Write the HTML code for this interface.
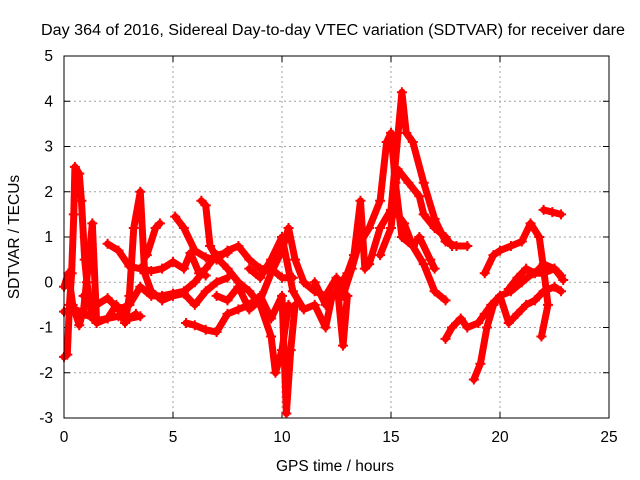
<!DOCTYPE html>
<html><head><meta charset="utf-8"><style>
body{margin:0;background:#fff}
svg{display:block;font-family:"Liberation Sans",sans-serif}
</style></head><body>
<svg id="chart" width="640" height="480">
<rect width="640" height="480" fill="#fff"/>
<text x="41" y="35" font-size="15.5" textLength="584" lengthAdjust="spacingAndGlyphs">Day 364 of 2016, Sidereal Day-to-day VTEC variation (SDTVAR) for receiver dare</text>
<text x="335" y="471" font-size="15.5" text-anchor="middle">GPS time / hours</text>
<text transform="translate(19,237) rotate(-90)" font-size="15.5" text-anchor="middle">SDTVAR / TECUs</text>
<g id="grid"></g><g id="ticks"></g><g id="marks"></g>
<rect x="64" y="56" width="545" height="362" fill="none" stroke="#000" stroke-width="1"/>
</svg>
<script>
const xTicks=[0,5,10,15,20,25];
const yTicks=[-3,-2,-1,0,1,2,3,4,5];
const tracks=[
[[0,-0.65],[0.5,-0.6],[1,-0.7],[1.5,-0.85],[2,-0.8],[2.5,-0.75],[3,-0.8],[3.5,-0.75]],
[[0,-1.65],[0.15,-1.6],[0.25,-0.5],[0.35,0.2],[0.45,1.5],[0.5,2.55],[0.7,2.4],[0.8,1.8],[0.95,0.5],[1.05,0],[1.3,-0.8]],
[[0,-0.1],[0.2,0.2],[0.4,-0.5],[0.7,-0.95],[0.9,-0.6],[1.1,0.3],[1.3,1.3],[1.5,-0.9],[2,-0.8],[2.4,-0.5],[2.8,-0.85],[3.3,-0.7]],
[[0.9,-0.3],[1.5,-0.5],[2,-0.35],[2.5,-0.6],[3,-0.5],[3.5,-0.1],[4,-0.3],[4.5,-0.3],[5,-0.25],[5.5,-0.2],[6,0],[6.5,0.3],[7,0.6],[7.5,0.65]],
[[2,0.85],[2.5,0.7],[3,0.35],[3.5,0.3],[4,0.25],[4.5,0.3],[5,0.45],[5.5,0.3],[5.8,0.65],[6.2,0.2],[6.5,0.15]],
[[2.8,-0.9],[3.0,-0.3],[3.2,1.2],[3.5,2.0],[3.7,0.2],[4,-0.2],[4.5,-0.4],[5,-0.3],[5.5,-0.25],[6,-0.5],[6.5,-0.2],[7,0],[7.5,0.1]],
[[3.8,0.6],[4.2,1.2],[4.4,1.3]],
[[5.1,1.45],[5.5,1.2],[6,0.7],[6.5,0.55],[7,0.5],[7.5,0.7],[8,0.8],[8.5,0.5],[9,0.3],[9.5,0.3],[10,0.1],[10.5,0.1]],
[[6.3,1.8],[6.5,1.7],[6.7,0.8],[7,0.55],[7.5,0.3],[8,0],[8.5,-0.2],[9,-0.5],[9.5,-1.2],[9.7,-2.0],[10,-1.5],[10.3,-0.5]],
[[5.6,-0.9],[6,-0.95],[6.5,-1.05],[7,-1.1],[7.5,-0.7],[8,-0.6],[8.5,-0.5],[9,-0.3],[9.5,-0.8],[10,-0.3],[10.2,-2.9],[10.4,-1.5],[10.6,-0.5]],
[[7,-0.3],[7.5,-0.4],[8,-0.1],[8.5,-0.6],[9,-0.4],[9.5,0.2],[10,0.7],[10.3,1.2],[10.6,0.5],[11,0],[11.5,-0.2],[12,-0.3],[12.5,0.1],[12.8,-1.4],[13,-0.3]],
[[8.5,0.3],[9,0.1],[9.5,0.5],[10,1.0],[10.5,-0.2],[11,-0.6],[11.5,-0.5],[12,-1.0],[12.3,-0.3],[12.8,-0.3],[13.2,0.3],[13.5,0.8],[14,1.2],[14.5,1.8],[14.8,3.1],[15,3.3],[15.2,2.2],[15.5,1.0],[16,0.8],[16.5,0.4],[17,-0.2],[17.5,-0.4]],
[[11.5,0],[12,-0.5],[12.5,-0.2],[13,0.2],[13.3,0.6],[13.6,1.8],[13.8,0.3],[14,0.4],[14.5,1.2],[15,1.6],[15.5,4.2],[15.7,3.3],[16,3.1],[16.5,2.2],[17,1.4],[17.5,0.9],[18,0.8],[18.5,0.8]],
[[14.5,0.6],[15,1.2],[15.3,2.5],[15.8,2.2],[16.3,1.9],[16.5,1.5],[17,1.2],[17.5,1.0],[17.8,0.8]],
[[15.3,1.5],[15.6,1.3],[16,0.8],[16.3,1.0],[16.8,0.5],[17,0.3]],
[[17.5,-1.25],[17.8,-1.0],[18.2,-0.8],[18.5,-1.0],[19,-0.9],[19.3,-0.7],[19.6,-0.5],[20,-0.3],[20.4,-0.9],[20.8,-0.7],[21.2,-0.5],[21.6,-0.4],[22,-0.2],[22.5,-0.1],[22.8,-0.2]],
[[18.8,-2.15],[19.1,-1.8],[19.4,-1.0],[19.7,-0.5],[20,-0.3],[20.5,-0.2],[21,0],[21.5,0.2],[22,0.2],[22.5,0.3],[22.9,0.05]],
[[19.3,0.2],[19.7,0.6],[20,0.7],[20.5,0.8],[21,0.9],[21.4,1.3],[21.8,1.0],[22.0,0.3],[22.2,-0.5],[21.9,-1.2]],
[[20.4,-0.15],[20.8,0.1],[21.2,0.3],[21.6,0.2],[22,0.4],[22.5,0.3],[22.8,0.15]],
[[22,1.6],[22.4,1.55],[22.8,1.5]]
];
const X0=64,X1=609,Y0=418,Y1=56,xmin=0,xmax=25,ymin=-3,ymax=5;
const sx=t=>X0+(t-xmin)/(xmax-xmin)*(X1-X0);
const sy=v=>Y0-(v-ymin)/(ymax-ymin)*(Y0-Y1);
const NS="http://www.w3.org/2000/svg";
const grid=document.getElementById('grid'),ticks=document.getElementById('ticks'),marks=document.getElementById('marks');
function mk(tag,attrs,parent){const e=document.createElementNS(NS,tag);for(const k in attrs)e.setAttribute(k,attrs[k]);parent.appendChild(e);return e;}
xTicks.forEach(t=>{
  const x=sx(t);
  if(t>xmin&&t<xmax){const g=mk('line',{x1:x,x2:x,y1:Y1,y2:Y0,stroke:'#a0a0a0','stroke-dasharray':'2,3'},grid);
  
  }
  const l=mk('text',{x:x,y:Y0+24,'font-size':15.5,'text-anchor':'middle'},ticks);l.textContent=t;
  
  
  mk('line',{x1:x,x2:x,y1:Y0,y2:Y0-6,stroke:'#000'},ticks);
  mk('line',{x1:x,x2:x,y1:Y1,y2:Y1+6,stroke:'#000'},ticks);
});
yTicks.forEach(v=>{
  const y=sy(v);
  if(v>ymin&&v<ymax){const g=mk('line',{x1:X0,x2:X1,y1:y,y2:y,stroke:'#a0a0a0','stroke-dasharray':'2,3'},grid);
  
  }
  const l=mk('text',{x:X0-11,y:y+5,'font-size':15.5,'text-anchor':'end'},ticks);l.textContent=v;
  
  
  mk('line',{x1:X0,x2:X0+6,y1:y,y2:y,stroke:'#000'},ticks);
  mk('line',{x1:X1,x2:X1-6,y1:y,y2:y,stroke:'#000'},ticks);
});
tracks.forEach((tr,i)=>{
  const p=mk('polyline',{points:tr.map(d=>sx(d[0])+','+sy(d[1])).join(' '),fill:'none',stroke:'#ff0000','stroke-width':7,'stroke-linejoin':'round','stroke-linecap':'round'},marks);
  
  
  tr.forEach(d=>{
    const x=sx(d[0]),y=sy(d[1]);
    const m=mk('path',{d:`M${x-5},${y}H${x+5}M${x},${y-5}V${y+5}`,stroke:'#ff0000','stroke-width':2},marks);
    
    
  });
});
</script>
</body></html>
